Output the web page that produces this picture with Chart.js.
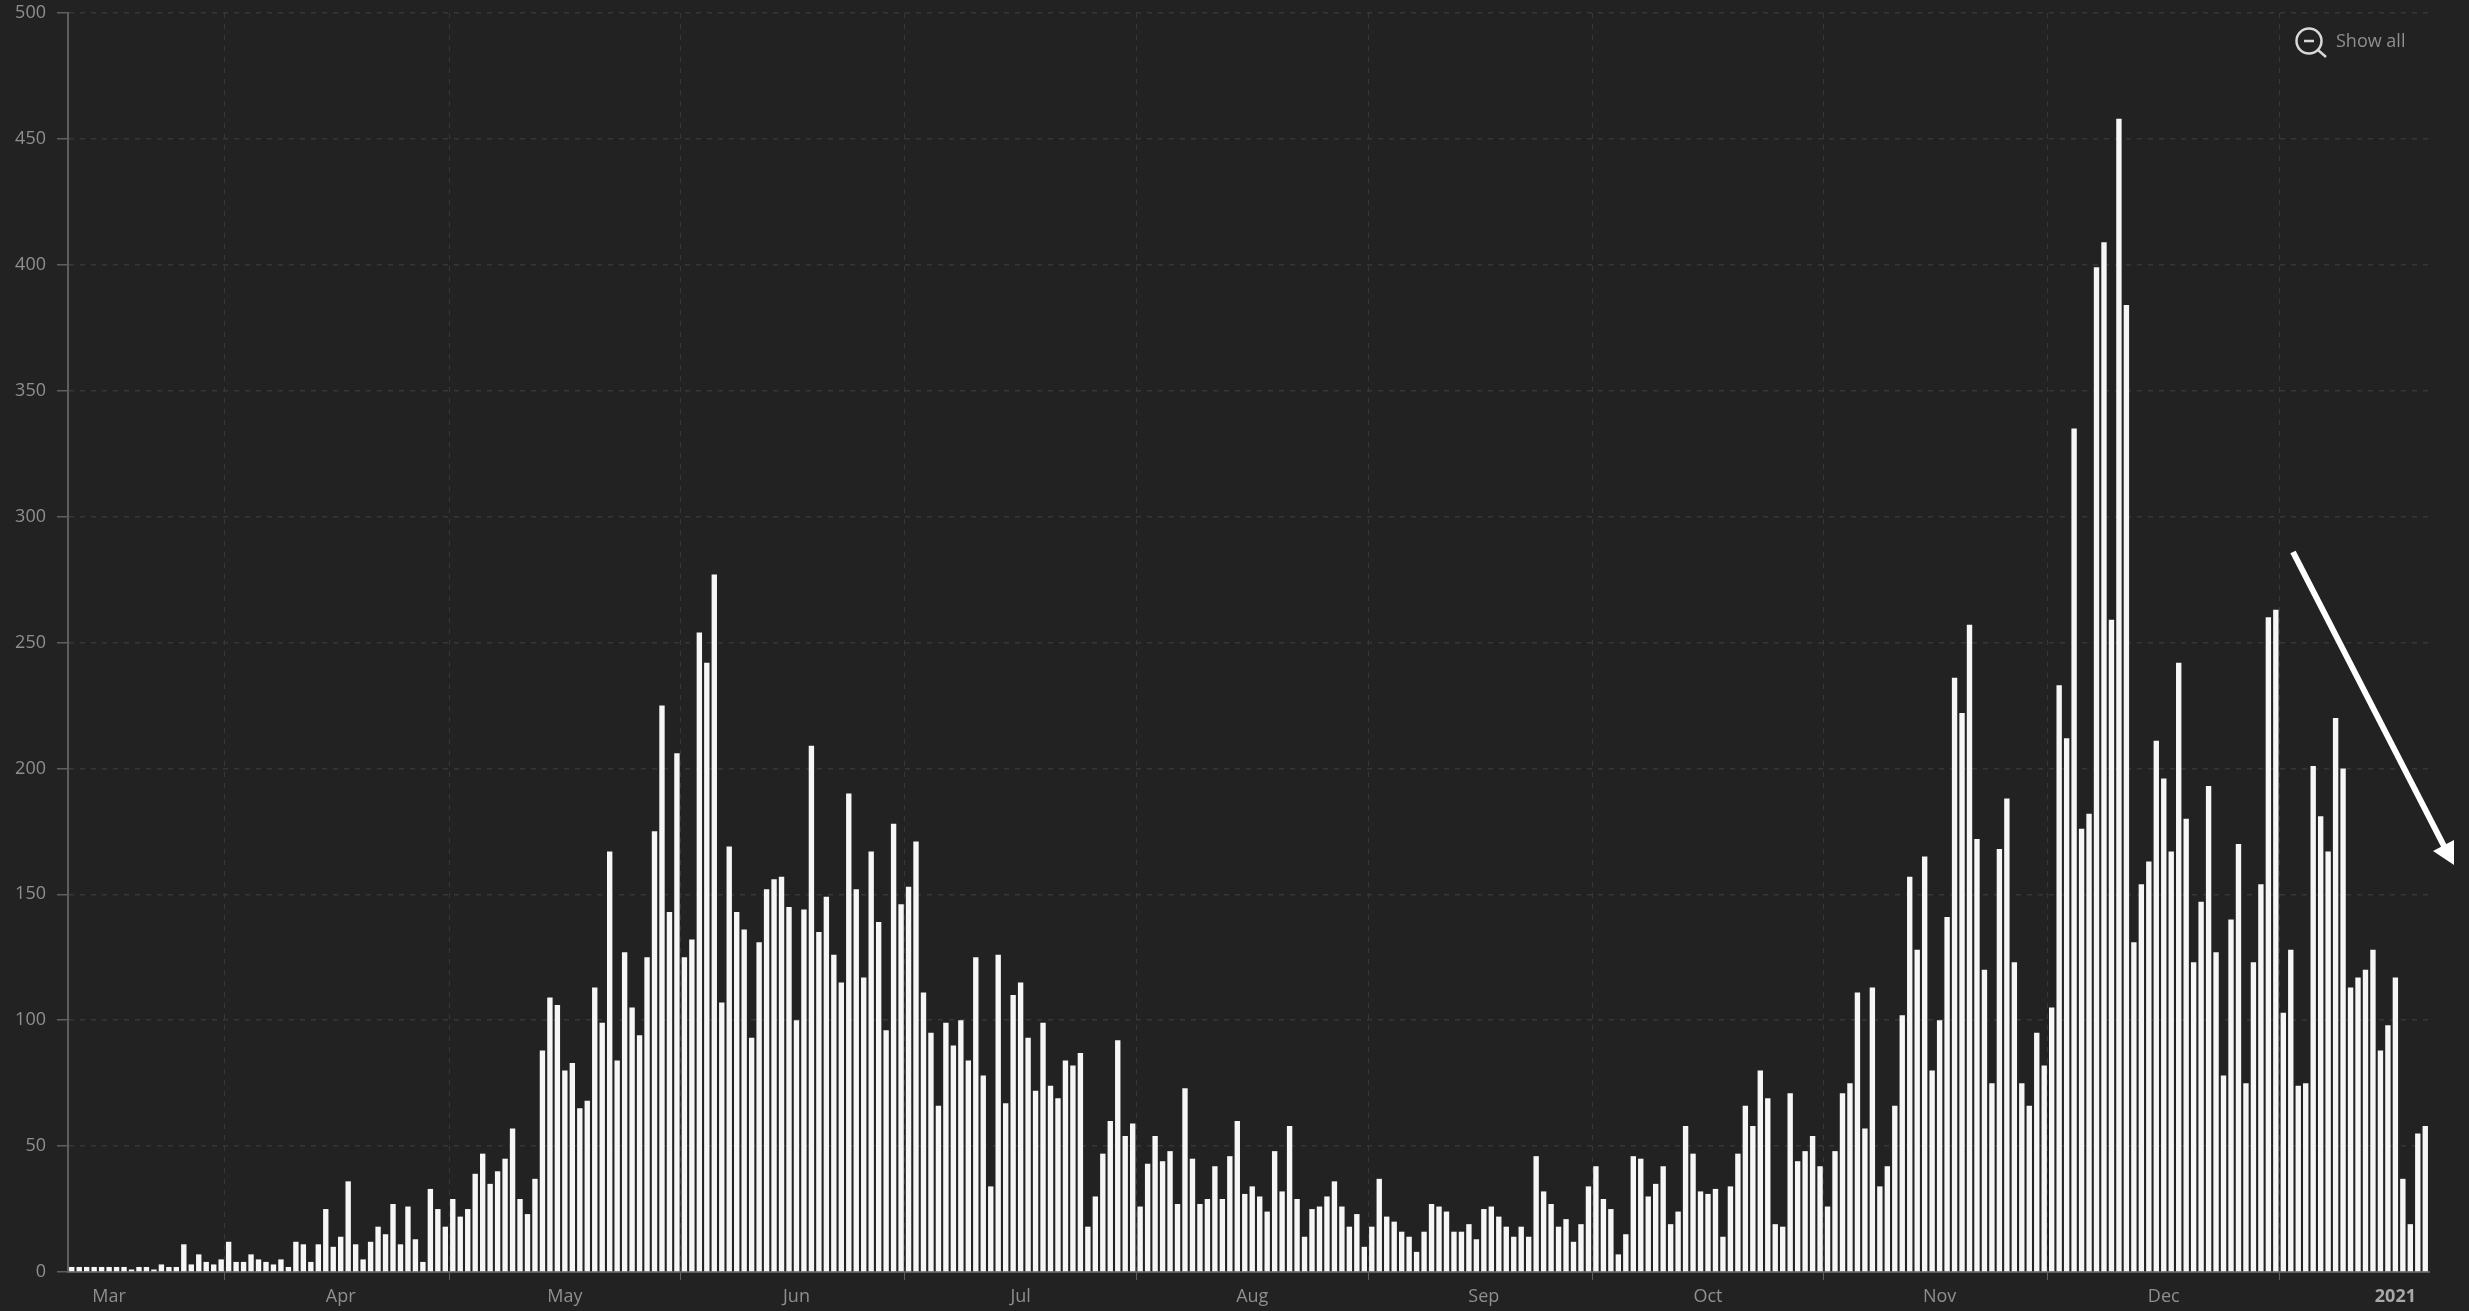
<!DOCTYPE html>
<html>
<head>
<meta charset="utf-8">
<title>Daily counts</title>
<script src="https://cdn.jsdelivr.net/npm/chart.js@4/dist/chart.umd.min.js"></script>
<style>
    html, body { margin: 0; background: #222222; }
    canvas { display: block; }
</style>
</head>
<body>
<canvas id="dailyChart" width="2469" height="1311"></canvas>
<script>
// daily values, first bar is 11 Mar 2020
const dailyValues = [
    2, 2, 2, 2, 2, 2, 2, 2, 1, 2, 2, 1, 3, 2, 2, 11, 3, 7, 4, 3, 5,
    12, 4, 4, 7, 5, 4, 3, 5, 2, 12, 11, 4, 11, 25, 10, 14, 36, 11, 5,
    12, 18, 15, 27, 11, 26, 13, 4, 33, 25, 18, 29, 22, 25, 39, 47, 35, 40, 45, 57,
    29, 23, 37, 88, 109, 106, 80, 83, 65, 68, 113, 99, 167, 84,
    127, 105, 94, 125, 175, 225, 143, 206, 125, 132, 254, 242, 277, 107, 169, 143, 136, 93, 131, 152,
    156, 157, 145, 100, 144, 209, 135, 149, 126, 115, 190, 152, 117, 167, 139, 96, 178, 146, 153, 171,
    111, 95, 66, 99, 90, 100, 84, 125, 78, 34, 126, 67, 110, 115, 93, 72, 99, 74, 69, 84,
    82, 87, 18, 30, 47, 60, 92,
    54, 59, 26, 43, 54, 44, 48, 27, 73, 45, 27, 29, 42, 29, 46, 60, 31, 34, 30, 24,
    48, 32, 58, 29, 14, 25, 26, 30, 36, 26, 18, 23, 10, 18, 37, 22, 20, 16, 14, 8,
    16, 27, 26, 24, 16, 16, 19, 13, 25, 26, 22, 18, 14, 18, 14, 46, 32, 27, 18, 21,
    12, 19, 34, 42, 29, 25, 7, 15, 46, 45, 30, 35, 42, 19, 24, 58, 47, 32, 31, 33,
    14, 34, 47, 66, 58, 80, 69, 19, 18, 71, 44, 48, 54, 42, 26, 48, 71, 75, 111,
    57, 113, 34, 42, 66, 102, 157, 128, 165, 80, 100, 141, 236, 222, 257, 172, 120, 75, 168, 188,
    123, 75, 66, 95, 82, 105, 233, 212, 335, 176, 182, 399, 409, 259, 458, 384, 131, 154, 163, 211,
    196, 167, 242, 180, 123, 147, 193, 127, 78, 140, 170, 75, 123, 154, 260, 263, 103, 128, 74, 75,
    201, 181, 167, 220, 200, 113, 117, 120, 128, 88, 98, 117, 37, 19, 55, 58
];

// index of the first bar of each month, vertical grid lines go here
const monthStarts = [21, 51, 82, 112, 143, 174, 204, 235, 265, 296];

// month names sit in the middle of their month
const monthNames = ['Mar', 'Apr', 'May', 'Jun', 'Jul', 'Aug', 'Sep', 'Oct', 'Nov', 'Dec', '2021'];
const monthMiddles = [5, 36, 66, 97, 127, 158, 189, 219, 250, 280, 311];

const dayLabels = [];
for (let i = 0; i < dailyValues.length; i++) {
    const day = new Date(Date.UTC(2020, 2, 11 + i));
    dayLabels.push(day.toISOString().slice(0, 10));
}

const textColor = '#8f8f8f';
const axisColor = '#5e5e5e';
const gridColor = '#373737';
const fontName = '"Open Sans", sans-serif';

// the show all button and the white arrow drawn on top of the chart
const overlayPlugin = {
    id: 'overlay',
    afterDraw(chart) {
        const c = chart.ctx;
        c.save();

        // arrow
        c.strokeStyle = '#ffffff';
        c.fillStyle = '#ffffff';
        c.lineWidth = 6;
        c.beginPath();
        c.moveTo(2293, 552);
        c.lineTo(2446, 850);
        c.stroke();
        c.beginPath();
        c.moveTo(2454, 865);
        c.lineTo(2433, 851);
        c.lineTo(2454, 840);
        c.closePath();
        c.fill();

        // magnifier
        c.strokeStyle = '#d8d8d8';
        c.lineWidth = 2.5;
        c.beginPath();
        c.arc(2309, 41, 12.5, 0, Math.PI * 2);
        c.stroke();
        c.beginPath();
        c.moveTo(2318, 50);
        c.lineTo(2326, 57);
        c.stroke();
        c.beginPath();
        c.moveTo(2304, 41);
        c.lineTo(2314, 41);
        c.stroke();

        c.fillStyle = textColor;
        c.font = '18px ' + fontName;
        c.textAlign = 'left';
        c.textBaseline = 'middle';
        c.fillText('Show all', 2336, 42);
        c.restore();
    }
};

const ctx = document.getElementById('dailyChart').getContext('2d');
new Chart(ctx, {
    type: 'bar',
    data: {
        labels: dayLabels,
        datasets: [{
            data: dailyValues,
            backgroundColor: '#f6f6f6',
            borderWidth: 0,
            barPercentage: 0.72,
            categoryPercentage: 1
        }]
    },
    options: {
        responsive: false,
        devicePixelRatio: 1,
        animation: false,
        layout: {
            padding: { top: 13, right: 40 }
        },
        plugins: {
            legend: { display: false },
            tooltip: { enabled: false }
        },
        scales: {
            x: {
                offset: true,
                afterFit: (scale) => { scale.height = 39; },
                grid: {
                    offset: true,
                    tickLength: 8,
                    color: (c) => monthStarts.includes(c.index) ? gridColor : 'transparent',
                    tickColor: (c) => monthStarts.includes(c.index) ? axisColor : 'transparent'
                },
                border: { color: axisColor, width: 2, dash: [5, 6] },
                ticks: {
                    autoSkip: false,
                    maxRotation: 0,
                    padding: 6,
                    color: (c) => c.index === monthMiddles[10] ? '#a8a8a8' : textColor,
                    font: (c) => ({
                        family: fontName,
                        size: 18,
                        weight: c.index === monthMiddles[10] ? 'bold' : 'normal'
                    }),
                    callback: (value, index) => {
                        const pos = monthMiddles.indexOf(index);
                        return pos === -1 ? '' : monthNames[pos];
                    }
                }
            },
            y: {
                min: 0,
                max: 500,
                afterFit: (scale) => {
                    scale.width = 68;
                    // the 500 label may stick out over the plot top
                    scale.paddingTop = 0;
                    scale.paddingBottom = 0;
                },
                grid: {
                    tickLength: 11,
                    color: gridColor,
                    tickColor: axisColor,
                    lineWidth: 1.5
                },
                border: { color: axisColor, width: 2, dash: [5, 6] },
                ticks: {
                    stepSize: 50,
                    padding: 11,
                    color: textColor,
                    font: { family: fontName, size: 18 }
                }
            }
        }
    },
    plugins: [overlayPlugin]
});
</script>
</body>
</html>
